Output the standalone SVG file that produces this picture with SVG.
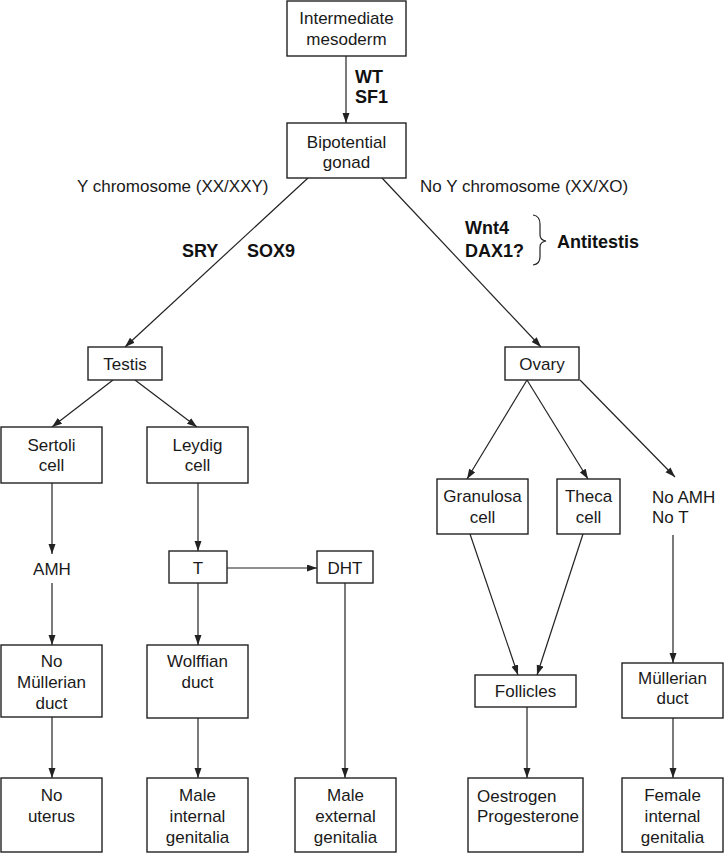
<svg xmlns="http://www.w3.org/2000/svg" width="724" height="853" viewBox="0 0 724 853">
<defs>
<marker id="ah" markerUnits="userSpaceOnUse" markerWidth="10" markerHeight="8" refX="10" refY="3.5" orient="auto">
<path d="M0,0 L10,3.5 L0,7 z" fill="#222"/>
</marker>
<style>
.box{fill:#fff;stroke:#222;stroke-width:1.4}
.t{font-family:"Liberation Sans",Arial,sans-serif;font-size:17px;fill:#1a1a1a;text-anchor:middle}
.l{font-family:"Liberation Sans",Arial,sans-serif;font-size:17px;fill:#1a1a1a}
.b{font-family:"Liberation Sans",Arial,sans-serif;font-size:18px;font-weight:bold;fill:#111}
.c{stroke:#222;stroke-width:1.2;fill:none}
.a{marker-end:url(#ah)}
</style>
</defs>
<rect width="724" height="853" fill="#fff"/>
<g id="connectors">
<line class="c a" x1="346" y1="56" x2="346" y2="123"/>
<line class="c a" x1="308" y1="178" x2="125" y2="347"/>
<line class="c a" x1="382" y1="178" x2="541" y2="347"/>
<line class="c a" x1="113" y1="380" x2="52" y2="427"/>
<line class="c a" x1="135" y1="380" x2="197" y2="427"/>
<line class="c a" x1="52" y1="483" x2="52" y2="554"/>
<line class="c a" x1="198" y1="483" x2="198" y2="551"/>
<line class="c a" x1="227" y1="568" x2="317" y2="568"/>
<line class="c a" x1="52" y1="583" x2="52" y2="645"/>
<line class="c a" x1="198" y1="583" x2="198" y2="645"/>
<line class="c a" x1="345" y1="583" x2="345" y2="778"/>
<line class="c a" x1="52" y1="717" x2="52" y2="778"/>
<line class="c a" x1="198" y1="718" x2="198" y2="778"/>
<line class="c a" x1="527" y1="380" x2="467" y2="479"/>
<line class="c a" x1="527" y1="380" x2="588" y2="479"/>
<line class="c a" x1="580" y1="380" x2="675" y2="477"/>
<line class="c a" x1="470" y1="534" x2="518" y2="675"/>
<line class="c a" x1="583" y1="534" x2="537" y2="675"/>
<line class="c a" x1="673" y1="535" x2="673" y2="663"/>
<line class="c a" x1="527" y1="707" x2="527" y2="778"/>
<line class="c a" x1="673" y1="718" x2="673" y2="778"/>
</g>
<g id="labels">
<text class="b" x="355" y="83">WT</text>
<text class="b" x="355" y="103">SF1</text>
<text class="l" x="77" y="192">Y chromosome (XX/XXY)</text>
<text class="l" x="420" y="192">No Y chromosome (XX/XO)</text>
<text class="b" x="182" y="257">SRY</text>
<text class="b" x="247" y="257">SOX9</text>
<text class="b" x="465" y="234">Wnt4</text>
<text class="b" x="465" y="257">DAX1?</text>
<path class="c" d="M533,215 Q540,216 540,224 L540,235 Q540,240 546,241 Q540,242 540,247 L540,257 Q540,264 533,265"/>
<text class="b" x="557" y="248">Antitestis</text>
</g>
<g id="n-intermediate"><rect class="box" x="287" y="1" width="119" height="55"/><text class="t" x="346.5" y="24">Intermediate</text><text class="t" x="346.5" y="45">mesoderm</text></g>
<g id="n-bipotential"><rect class="box" x="287" y="123" width="119" height="55"/><text class="t" x="346.5" y="148">Bipotential</text><text class="t" x="346.5" y="168">gonad</text></g>
<g id="n-testis"><rect class="box" x="88" y="347" width="74" height="33"/><text class="t" x="125" y="370">Testis</text></g>
<g id="n-ovary"><rect class="box" x="505" y="347" width="74" height="33"/><text class="t" x="542" y="370">Ovary</text></g>
<g id="n-sertoli"><rect class="box" x="1" y="427" width="101" height="56"/><text class="t" x="51.5" y="451">Sertoli</text><text class="t" x="51.5" y="471">cell</text></g>
<g id="n-leydig"><rect class="box" x="147" y="427" width="101" height="56"/><text class="t" x="197.5" y="451">Leydig</text><text class="t" x="197.5" y="471">cell</text></g>
<g id="n-amh"><text class="t" x="52" y="575">AMH</text></g>
<g id="n-t"><rect class="box" x="169" y="551" width="58" height="32"/><text class="t" x="198" y="574">T</text></g>
<g id="n-dht"><rect class="box" x="317" y="551" width="56" height="32"/><text class="t" x="345" y="574">DHT</text></g>
<g id="n-nomullerian"><rect class="box" x="1" y="645" width="101" height="72"/><text class="t" x="51.5" y="667">No</text><text class="t" x="51.5" y="688">Müllerian</text><text class="t" x="51.5" y="709">duct</text></g>
<g id="n-wolffian"><rect class="box" x="147" y="645" width="101" height="73"/><text class="t" x="197.5" y="667">Wolffian</text><text class="t" x="197.5" y="688">duct</text></g>
<g id="n-nouterus"><rect class="box" x="1" y="778" width="101" height="74"/><text class="t" x="51.5" y="801">No</text><text class="t" x="51.5" y="822">uterus</text></g>
<g id="n-maleint"><rect class="box" x="147" y="778" width="101" height="74"/><text class="t" x="197.5" y="801">Male</text><text class="t" x="197.5" y="822">internal</text><text class="t" x="197.5" y="843">genitalia</text></g>
<g id="n-maleext"><rect class="box" x="295" y="778" width="101" height="74"/><text class="t" x="345.5" y="801">Male</text><text class="t" x="345.5" y="822">external</text><text class="t" x="345.5" y="843">genitalia</text></g>
<g id="n-granulosa"><rect class="box" x="437" y="479" width="91" height="55"/><text class="t" x="482.5" y="502">Granulosa</text><text class="t" x="482.5" y="523">cell</text></g>
<g id="n-theca"><rect class="box" x="557" y="479" width="63" height="55"/><text class="t" x="588.5" y="502">Theca</text><text class="t" x="588.5" y="523">cell</text></g>
<g id="n-noamh"><text class="l" x="652" y="503">No AMH</text><text class="l" x="652" y="523">No T</text></g>
<g id="n-follicles"><rect class="box" x="475" y="675" width="101" height="32"/><text class="t" x="525.5" y="697">Follicles</text></g>
<g id="n-oestrogen"><rect class="box" x="468" y="778" width="115" height="74"/><text class="l" x="477" y="802">Oestrogen</text><text class="l" x="477" y="822">Progesterone</text></g>
<g id="n-mullerian"><rect class="box" x="622" y="663" width="101" height="55"/><text class="t" x="672.5" y="684">Müllerian</text><text class="t" x="672.5" y="704">duct</text></g>
<g id="n-femaleint"><rect class="box" x="622" y="778" width="101" height="74"/><text class="t" x="672.5" y="801">Female</text><text class="t" x="672.5" y="822">internal</text><text class="t" x="672.5" y="843">genitalia</text></g>
</svg>
